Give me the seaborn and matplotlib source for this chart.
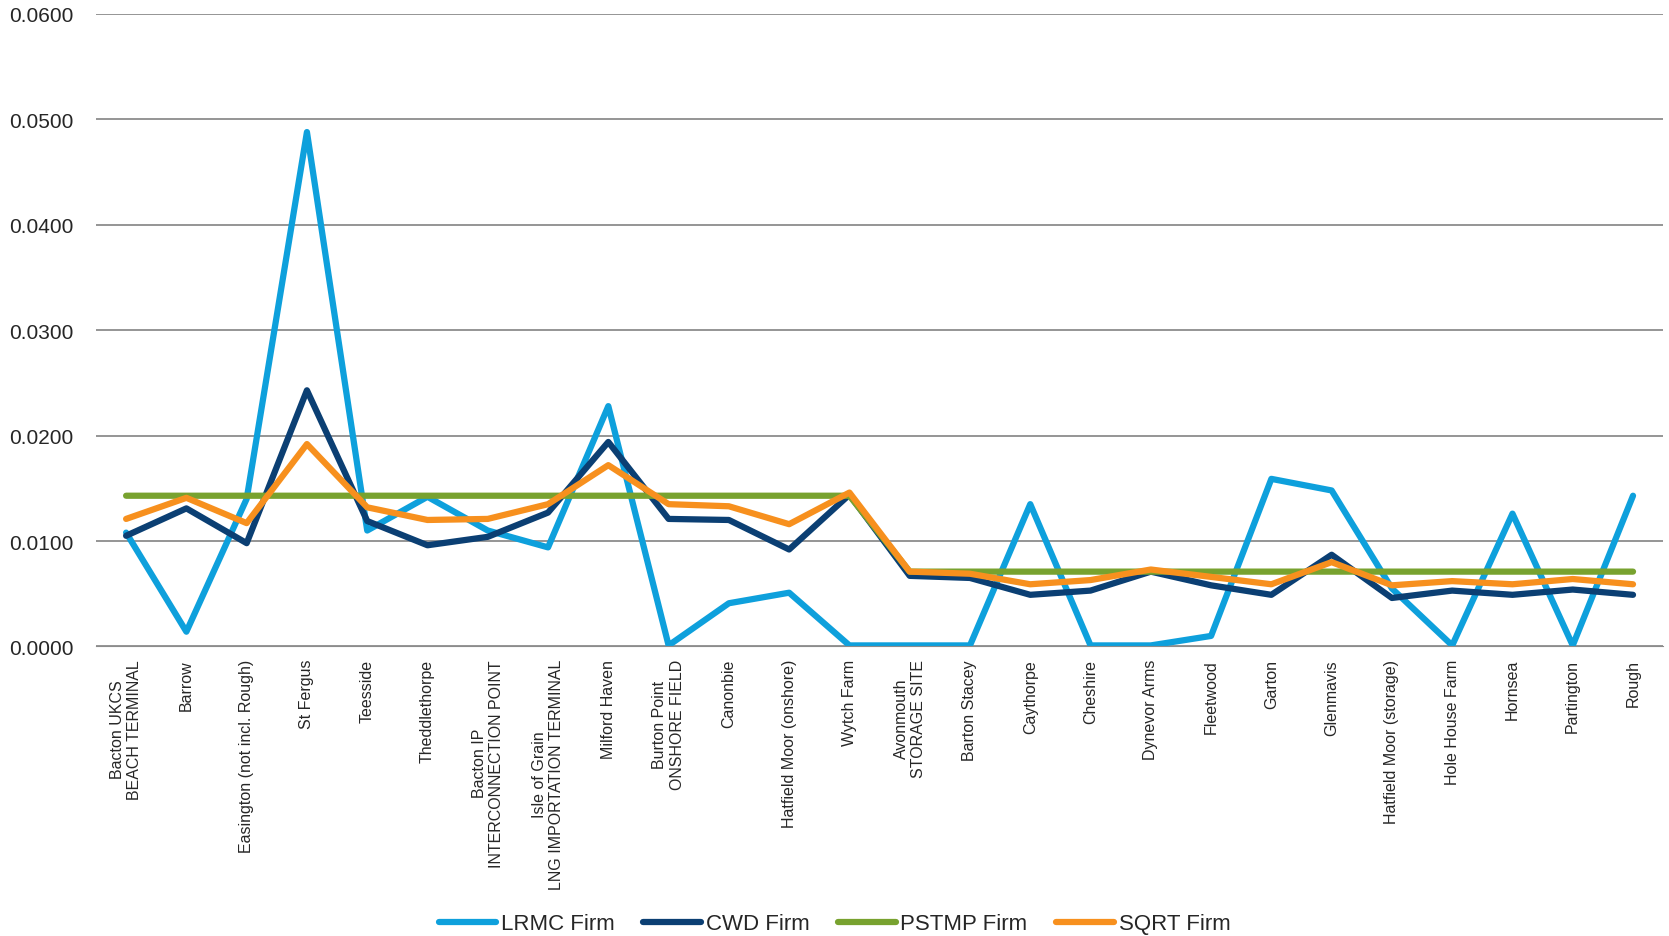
import matplotlib
matplotlib.use("Agg")
import matplotlib.pyplot as plt
import seaborn as sns
import pandas as pd
from matplotlib.ticker import FormatStrFormatter

sites = ["Bacton UKCS\nBEACH TERMINAL", "Barrow", "Easington (not incl. Rough)", "St Fergus",
         "Teesside", "Theddlethorpe", "Bacton IP\nINTERCONNECTION POINT",
         "Isle of Grain\nLNG IMPORTATION TERMINAL", "Milford Haven", "Burton Point\nONSHORE FIELD",
         "Canonbie", "Hatfield Moor (onshore)", "Wytch Farm", "Avonmouth\nSTORAGE SITE",
         "Barton Stacey", "Caythorpe", "Cheshire", "Dynevor Arms", "Fleetwood", "Garton",
         "Glenmavis", "Hatfield Moor (storage)", "Hole House Farm", "Hornsea", "Partington", "Rough"]

lrmc = [0.0108, 0.0014, 0.0140, 0.0488, 0.0110, 0.0142, 0.0110, 0.0094, 0.0228, 0.0001,
        0.0041, 0.0051, 0.0001, 0.0001, 0.0001, 0.0135, 0.0001, 0.0001, 0.0010, 0.0159,
        0.0148, 0.0055, 0.0001, 0.0126, 0.0001, 0.0143]
cwd = [0.0105, 0.0131, 0.0098, 0.0243, 0.0119, 0.0096, 0.0104, 0.0127, 0.0194, 0.0121,
       0.0120, 0.0092, 0.0144, 0.0067, 0.0065, 0.0049, 0.0053, 0.0071, 0.0058, 0.0049,
       0.0087, 0.0046, 0.0053, 0.0049, 0.0054, 0.0049]
pstmp = [0.0143] * 13 + [0.0071] * 13
sqrt_ = [0.0121, 0.0141, 0.0117, 0.0192, 0.0132, 0.0120, 0.0121, 0.0135, 0.0172, 0.0135,
         0.0133, 0.0116, 0.0146, 0.0071, 0.0069, 0.0059, 0.0063, 0.0073, 0.0066, 0.0059,
         0.0080, 0.0058, 0.0062, 0.0059, 0.0064, 0.0059]

series = {"LRMC Firm": lrmc, "CWD Firm": cwd, "PSTMP Firm": pstmp, "SQRT Firm": sqrt_}
colors = {"LRMC Firm": "#0ea0dc", "CWD Firm": "#0b3f73", "PSTMP Firm": "#78a22f", "SQRT Firm": "#f7901e"}

rows = []
for name, vals in series.items():
    for i, v in enumerate(vals):
        rows.append({"pos": i, "value": v, "series": name})
df = pd.DataFrame(rows)

sns.set_style("white")
plt.rcParams['font.family'] = ['Liberation Sans', 'DejaVu Sans']

fig = plt.figure(figsize=(16.69, 9.37), dpi=100)
ax = fig.add_axes([0.0575, 0.309, 0.939, 0.675])

sns.lineplot(data=df, x="pos", y="value", hue="series", palette=colors, linewidth=4.5, ax=ax)

ax.set_xlim(-0.5, len(sites) - 0.5)
ax.set_ylim(0, 0.06)
ax.set_yticks([0, 0.01, 0.02, 0.03, 0.04, 0.05, 0.06])
ax.yaxis.set_major_formatter(FormatStrFormatter("%.4f"))
ax.set_xticks(range(len(sites)))
ax.set_xticklabels(sites, rotation=90, fontsize=11.5, va="top", ha="center")
ax.tick_params(axis="y", labelsize=15, length=0, pad=16)
ax.tick_params(axis="x", length=0, pad=9)
ax.grid(axis="y", color="#8c8c8c", linewidth=1.3)
ax.set_axisbelow(True)
for s in ["top", "right", "left"]:
    ax.spines[s].set_visible(False)
ax.spines["bottom"].set_color("#8c8c8c")
ax.set_xlabel("")
ax.set_ylabel("")

handles, labels = ax.get_legend_handles_labels()
ax.get_legend().remove()
leg = fig.legend(handles, labels, loc="center", bbox_to_anchor=(0.5, 0.013), ncol=4, frameon=False,
                 fontsize=16, handlelength=2.6, handletextpad=0.2, columnspacing=1.3)
for h in leg.get_lines():
    h.set_linewidth(4.5)

fig.savefig("out.png", dpi=100)
